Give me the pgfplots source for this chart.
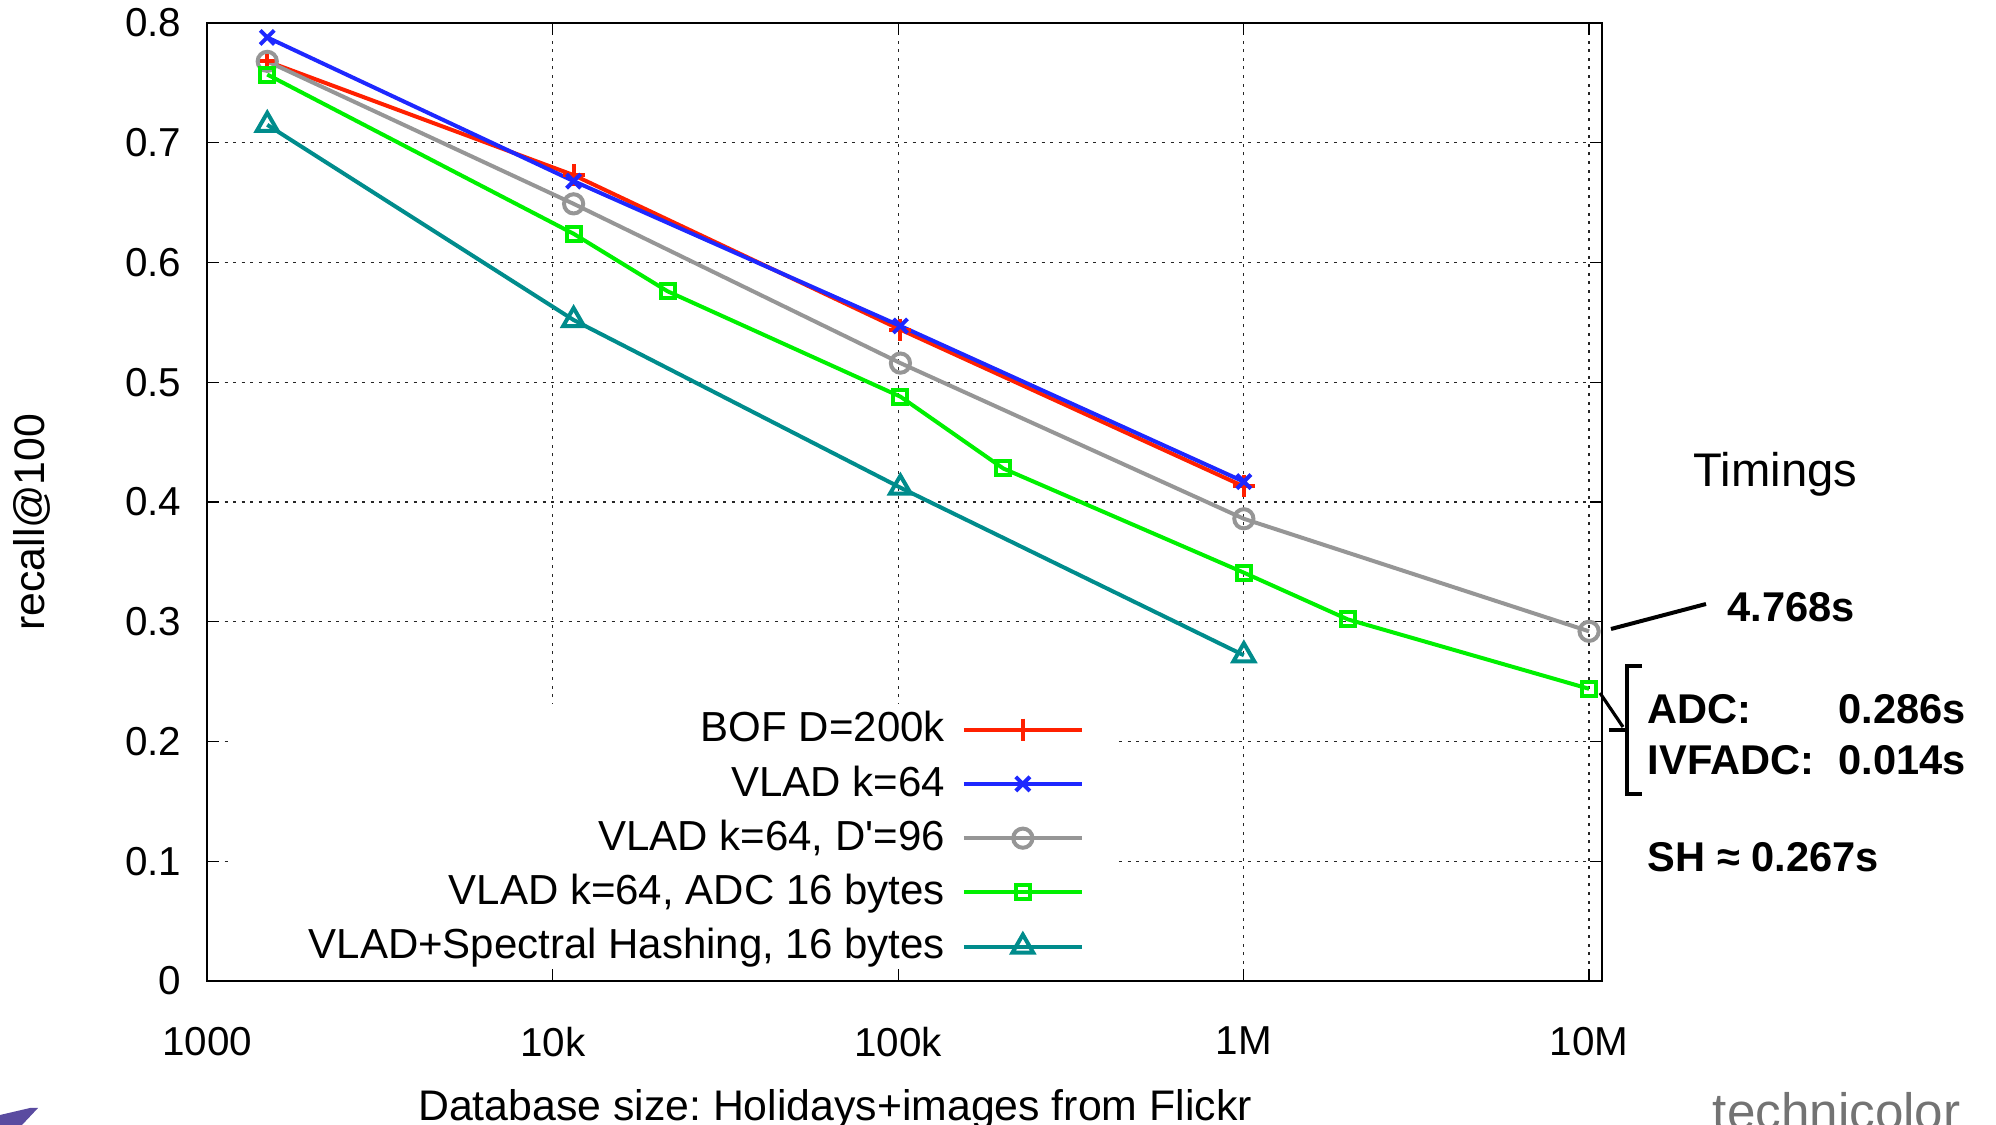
\documentclass[border=0pt]{standalone}
\usepackage{fontspec}
\setmainfont{Liberation Sans}
\usepackage{pgfplots}
\pgfplotsset{compat=1.18}
\frenchspacing

\definecolor{bofred}{RGB}{255,32,0}
\definecolor{vladblue}{RGB}{30,40,255}
\definecolor{pcagray}{RGB}{150,150,150}
\definecolor{adcgreen}{RGB}{0,240,0}
\definecolor{shteal}{RGB}{0,140,140}
\definecolor{logopurple}{RGB}{90,75,160}

\begin{document}
\begin{tikzpicture}
\path[use as bounding box] (0,0) rectangle (499pt,281.25pt);
\begin{axis}[
    at={(51.83pt,36pt)}, anchor=south west,
    scale only axis, width=348.7pt, height=239.5pt,
    xmode=log, xmin=1000, xmax=10910000,
    ymin=0, ymax=0.8,
    xtick={1000,10000,100000,1000000,10000000},
    xticklabels={1000,10k,100k,1M,10M},
    ytick={0,0.1,0.2,0.3,0.4,0.5,0.6,0.7,0.8},
    yticklabels={0,0.1,0.2,0.3,0.4,0.5,0.6,0.7,0.8},
    xminorticks=false,
    tick align=inside, major tick length=3pt,
    tick style={black, line width=0.35pt},
    axis line style={line width=0.45pt},
    grid=major,
    major grid style={black!85, line width=0.35pt, dash pattern=on 0.75pt off 1.4pt},
    ticklabel style={font=\fontsize{10.1}{12}\selectfont},
    xticklabel style={yshift=-8pt},
    yticklabel style={xshift=-3pt},
    xlabel={Database size: Holidays+images from Flickr},
    ylabel={recall@100},
    label style={font=\fontsize{10.7}{12}\selectfont},
    xlabel style={at={(axis description cs:0.45,-0.146)}, anchor=base},
    ylabel style={at={(axis description cs:-0.1255,0.479)}, anchor=center},
    legend plot pos=right, legend cell align=right,
    legend image code/.code={\draw[mark repeat=2,mark phase=2] plot coordinates {(0pt,0pt)(14.75pt,0pt)(29.5pt,0pt)};},
    legend style={draw=none, fill=none, inner sep=0pt,
        at={(axis description cs:0.629,0.016)}, anchor=south east,
        column sep=4.25pt, row sep=4.45pt,
        font=\fontsize{10.5}{12}\selectfont,
        nodes={inner sep=0pt}},
    every axis plot/.append style={line width=1pt, mark options={solid}},
]
\fill[white] (rel axis cs:0.0156,0.0125) rectangle (rel axis cs:0.65,0.289);

\addplot[color=bofred, mark=+, mark size=2.75pt] coordinates {
  (1491,0.768)(11491,0.673)(101491,0.544)(1001491,0.413)};
\addlegendentry{BOF D=200k}
\addplot[color=vladblue, mark=x, mark size=2.5pt] coordinates {
  (1491,0.788)(11491,0.668)(101491,0.547)(1001491,0.417)};
\addlegendentry{VLAD k=64}
\addplot[color=pcagray, mark=o, mark size=2.4pt] coordinates {
  (1491,0.768)(11491,0.649)(101491,0.516)(1001491,0.386)(10001491,0.292)};
\addlegendentry{VLAD k=64, D\textquotesingle=96}
\addplot[color=adcgreen, mark=square, mark size=1.75pt] coordinates {
  (1491,0.757)(11491,0.624)(21491,0.576)(101491,0.488)(201491,0.428)
  (1001491,0.341)(2001491,0.302)(10001491,0.244)};
\addlegendentry{VLAD k=64, ADC 16 bytes}
\addplot[color=shteal, mark=triangle, mark size=3pt] coordinates {
  (1491,0.715)(11491,0.552)(101491,0.412)(1001491,0.272)};
\addlegendentry{VLAD+Spectral Hashing, 16 bytes}
\end{axis}

% timings annotations
\node[anchor=base west, inner sep=0pt, font=\fontsize{11.8}{14}\selectfont] at (423.25pt,159.6pt) {Timings};
\node[anchor=base west, inner sep=0pt, font=\fontsize{10.4}{12}\selectfont\bfseries] at (431.75pt,125.8pt) {4.768s};
\draw[line width=1pt] (402.75pt,124pt) -- (426.5pt,130.25pt);
\draw[line width=0.8pt] (410.5pt,114.75pt) -- (406.75pt,114.75pt) -- (406.75pt,82.75pt) -- (410.5pt,82.75pt);
\draw[line width=0.8pt] (402.25pt,98.75pt) -- (406.75pt,98.75pt);
\draw[line width=0.8pt] (400pt,108pt) -- (405.75pt,99.5pt);
\begin{scope}[every node/.style={anchor=base west, inner sep=0pt, font=\fontsize{10.4}{12}\selectfont\bfseries}]
\node at (411.75pt,100.4pt) {ADC:};
\node at (459.5pt,100.4pt) {0.286s};
\node at (411.75pt,87.5pt) {IVFADC:};
\node at (459.5pt,87.5pt) {0.014s};
\node at (411.75pt,63.3pt) {SH ≈ 0.267s};
\end{scope}

% footer fragments
\node[anchor=base west, inner sep=0pt, text=black!55, font=\fontsize{12.8}{14}\selectfont] at (428pt,-1.25pt) {technicolor};
\fill[logopurple] (0pt,0pt) -- (0pt,2.5pt) -- (7.5pt,4.25pt) -- (9.5pt,4.25pt) -- (5.5pt,0pt) -- cycle;
\end{tikzpicture}
\end{document}
